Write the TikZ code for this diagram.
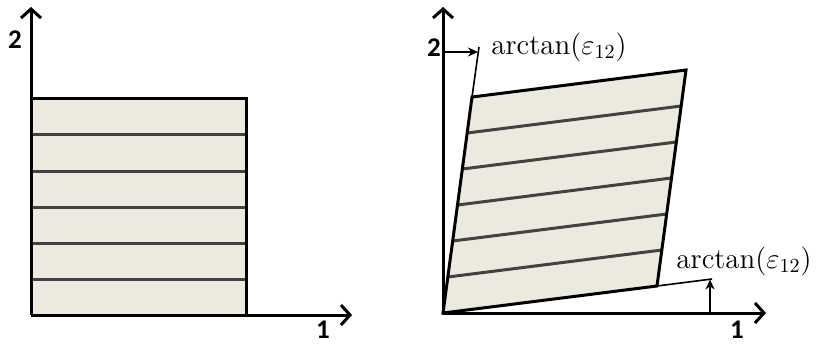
\documentclass[tikz,border=0pt]{standalone}
\usepackage{fontspec}
\setsansfont{Carlito}
\usepackage{amsmath}
\usetikzlibrary{arrows.meta,calc}
\definecolor{ply}{RGB}{236,233,223}
\definecolor{fibre}{RGB}{66,66,66}

\begin{document}
\begin{tikzpicture}[x=0.5pt,y=0.5pt,
    axis/.style={line width=1.5pt,-{Straight Barb[length=4.5pt,width=10pt]}},
    edge/.style={line width=1.5pt,line join=miter},
    stripe/.style={line width=1.5pt,fibre},
    guide/.style={line width=0.8pt},
    angarrow/.style={line width=0.8pt,-{Stealth[length=5pt,width=4.5pt]}},
    numlbl/.style={font=\sffamily\bfseries\fontsize{13.5pt}{16pt}\selectfont,inner sep=0pt},
    anglbl/.style={font=\fontsize{14.5pt}{17pt}\selectfont,inner sep=0pt}]
  \useasboundingbox (0,0) rectangle (818,343);

  % undeformed ply
  \coordinate (a0) at (31,28);
  \coordinate (a1) at (246,244);
  \fill[ply] (a0) rectangle (a1);
  \foreach \y in {64,100,136,172,208}
    \draw[stripe] (31,\y) -- (246,\y);
  \draw[edge] (31,244) -- (a1) -- (246,28);
  \coordinate (ax1) at (352,28);
  \coordinate (ay1) at (31,336);
  \draw[axis] (a0) -- (ax1);
  \draw[axis] (a0) -- (ay1);
  \node[numlbl] (one1) at (323,13) {1};
  \node[numlbl] (two1) at (15,303) {2};

  % sheared ply
  \coordinate (o) at (443,30);
  \coordinate (br) at (657,57);
  \coordinate (tl) at (472,246);
  \coordinate (tr) at (686,273);
  \fill[ply] (o) -- (br) -- (tr) -- (tl) -- cycle;
  \foreach \f in {1,...,5}
    \draw[stripe] ($(o)!\f/6!(tl)$) -- ($(br)!\f/6!(tr)$);
  \draw[edge] (o) -- (br) -- (tr) -- (tl) -- cycle;
  \coordinate (ax2) at (766,30);
  \coordinate (ay2) at (443,336);
  \draw[axis] (o) -- (ax2);
  \draw[axis] (o) -- (ay2);
  \node[numlbl] (one2) at (737,13) {1};
  \node[numlbl] (two2) at (434,295) {2};

  % shear angles
  \coordinate (ebr) at (712,64);
  \coordinate (etl) at (479,296);
  \draw[guide] (br) -- (ebr);
  \draw[guide] (tl) -- (etl);
  \coordinate (s1) at (443,291);
  \coordinate (e1) at (478,291);
  \coordinate (s2) at (710,30);
  \coordinate (e2) at (710,63.5);
  \draw[angarrow] (s1) -- (e1);
  \draw[angarrow] (s2) -- (e2);
  \node[anglbl] (ang1) at (559,296) {$\arctan(\varepsilon_{12})$};
  \node[anglbl] (ang2) at (744,82) {$\arctan(\varepsilon_{12})$};
\end{tikzpicture}
\end{document}
